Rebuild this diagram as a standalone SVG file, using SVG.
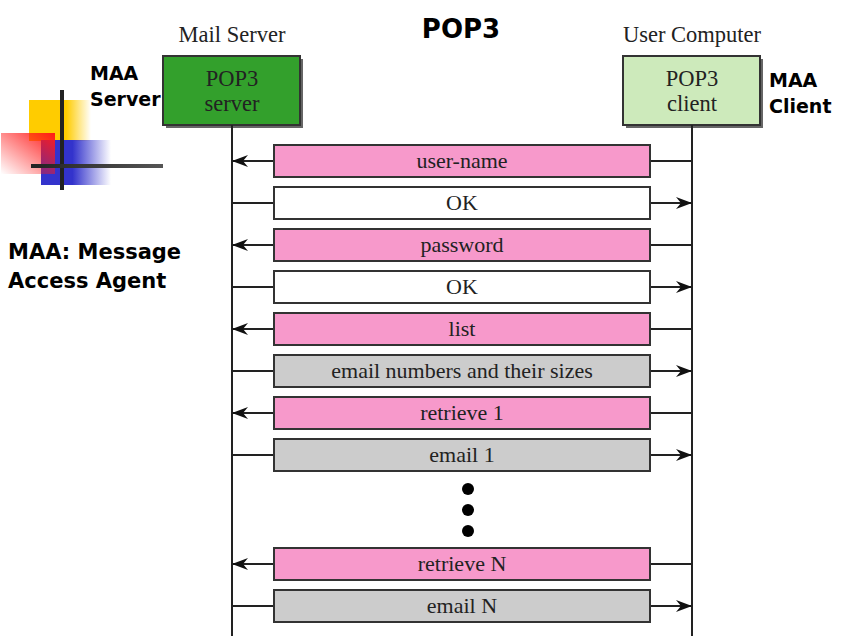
<svg xmlns="http://www.w3.org/2000/svg" width="843" height="636" viewBox="0 0 843 636">
<defs>
<style>
.ser{font-family:"Liberation Serif","DejaVu Serif",serif;fill:#222;}
.lbl{font-size:22.5px;text-anchor:middle;}
.msg{font-size:22px;text-anchor:middle;}
.bold{font-family:"DejaVu Sans","Liberation Sans",sans-serif;font-weight:bold;fill:#000;}
.box{stroke:#333;stroke-width:2;}
.pink{fill:#f799cb;}
.white{fill:#fff;}
.gray{fill:#cccccc;}
.line{stroke:#222;stroke-width:2;fill:none;}
</style>
<marker id="arr" markerWidth="16" markerHeight="12" refX="15" refY="6" orient="auto" markerUnits="userSpaceOnUse">
<path d="M0,0 L16,6 L0,12 L5,6 Z" fill="#111"/>
</marker>
<linearGradient id="gy" x1="0" y1="0" x2="1" y2="0">
<stop offset="0" stop-color="#ffcc00"/><stop offset="0.6" stop-color="#ffcc00"/><stop offset="1" stop-color="#ffcc00" stop-opacity="0"/>
</linearGradient>
<linearGradient id="gb" x1="0" y1="0" x2="1" y2="0">
<stop offset="0" stop-color="#3333cc"/><stop offset="0.45" stop-color="#3333cc"/><stop offset="1" stop-color="#3333cc" stop-opacity="0"/>
</linearGradient>
<linearGradient id="gr" x1="1" y1="0" x2="0" y2="1">
<stop offset="0" stop-color="#ff1a1a"/><stop offset="1" stop-color="#ff1a1a" stop-opacity="0"/>
</linearGradient>
<linearGradient id="gl" x1="0" y1="0" x2="1" y2="0">
<stop offset="0" stop-color="#222"/><stop offset="1" stop-color="#555"/>
</linearGradient>
</defs>
<rect width="843" height="636" fill="#fff"/>

<g id="logo">
<rect x="29" y="100" width="62" height="41" fill="url(#gy)"/>
<rect x="41" y="140" width="70" height="45" fill="url(#gb)"/>
<rect x="1" y="133" width="54" height="41" fill="url(#gr)"/>
<rect x="60" y="90" width="4" height="100" fill="#222"/>
<rect x="31" y="164" width="132" height="4" fill="url(#gl)"/>
</g>

<text class="bold" x="461" y="38" font-size="26" text-anchor="middle">POP3</text>
<text class="bold" x="90" y="80" font-size="19">MAA</text>
<text class="bold" x="90" y="106" font-size="19">Server</text>
<text class="bold" x="769" y="87" font-size="19">MAA</text>
<text class="bold" x="769" y="113" font-size="19">Client</text>
<text class="bold" x="8" y="259" font-size="21">MAA: Message</text>
<text class="bold" x="8" y="288" font-size="21">Access Agent</text>

<g id="mail-server">
<text class="ser lbl" x="232" y="42">Mail Server</text>
<rect x="166" y="59" width="137" height="69" fill="#666"/>
<rect x="163" y="56" width="137" height="69" fill="#33a02c" class="box"/>
<text class="ser lbl" x="232" y="86" fill="#111">POP3</text>
<text class="ser lbl" x="232" y="111">server</text>
</g>

<g id="user-computer">
<text class="ser lbl" x="692" y="42">User Computer</text>
<rect x="626" y="59" width="137" height="69" fill="#666"/>
<rect x="623" y="56" width="137" height="69" fill="#cdeabb" class="box"/>
<text class="ser lbl" x="692" y="86">POP3</text>
<text class="ser lbl" x="692" y="111">client</text>
</g>

<g id="connectors">
<line class="line" x1="232" y1="125" x2="232" y2="636"/>
<line class="line" x1="692" y1="125" x2="692" y2="636"/>
<line class="line" x1="692" y1="161" x2="650" y2="161"/><line class="line" x1="274" y1="161" x2="233" y2="161" marker-end="url(#arr)"/>
<line class="line" x1="692" y1="245" x2="650" y2="245"/><line class="line" x1="274" y1="245" x2="233" y2="245" marker-end="url(#arr)"/>
<line class="line" x1="692" y1="329" x2="650" y2="329"/><line class="line" x1="274" y1="329" x2="233" y2="329" marker-end="url(#arr)"/>
<line class="line" x1="692" y1="413" x2="650" y2="413"/><line class="line" x1="274" y1="413" x2="233" y2="413" marker-end="url(#arr)"/>
<line class="line" x1="692" y1="564" x2="650" y2="564"/><line class="line" x1="274" y1="564" x2="233" y2="564" marker-end="url(#arr)"/>
<line class="line" x1="232" y1="203" x2="274" y2="203"/><line class="line" x1="650" y1="203" x2="691" y2="203" marker-end="url(#arr)"/>
<line class="line" x1="232" y1="287" x2="274" y2="287"/><line class="line" x1="650" y1="287" x2="691" y2="287" marker-end="url(#arr)"/>
<line class="line" x1="232" y1="371" x2="274" y2="371"/><line class="line" x1="650" y1="371" x2="691" y2="371" marker-end="url(#arr)"/>
<line class="line" x1="232" y1="455" x2="274" y2="455"/><line class="line" x1="650" y1="455" x2="691" y2="455" marker-end="url(#arr)"/>
<line class="line" x1="232" y1="606" x2="274" y2="606"/><line class="line" x1="650" y1="606" x2="691" y2="606" marker-end="url(#arr)"/>
</g>

<g id="msg-user-name"><rect class="box pink" x="274" y="145" width="376" height="32"/><text class="ser msg" x="462" y="168">user-name</text></g>
<g id="msg-ok1"><rect class="box white" x="274" y="187" width="376" height="32"/><text class="ser msg" x="462" y="210">OK</text></g>
<g id="msg-password"><rect class="box pink" x="274" y="229" width="376" height="32"/><text class="ser msg" x="462" y="252">password</text></g>
<g id="msg-ok2"><rect class="box white" x="274" y="271" width="376" height="32"/><text class="ser msg" x="462" y="294">OK</text></g>
<g id="msg-list"><rect class="box pink" x="274" y="313" width="376" height="32"/><text class="ser msg" x="462" y="336">list</text></g>
<g id="msg-sizes"><rect class="box gray" x="274" y="355" width="376" height="32"/><text class="ser msg" x="462" y="378">email numbers and their sizes</text></g>
<g id="msg-retrieve1"><rect class="box pink" x="274" y="397" width="376" height="32"/><text class="ser msg" x="462" y="420">retrieve 1</text></g>
<g id="msg-email1"><rect class="box gray" x="274" y="439" width="376" height="32"/><text class="ser msg" x="462" y="462">email 1</text></g>
<g id="dots" fill="#000"><circle cx="468" cy="489" r="6"/><circle cx="468" cy="510" r="6"/><circle cx="468" cy="531" r="6"/></g>
<g id="msg-retrieveN"><rect class="box pink" x="274" y="548" width="376" height="32"/><text class="ser msg" x="462" y="571">retrieve N</text></g>
<g id="msg-emailN"><rect class="box gray" x="274" y="590" width="376" height="32"/><text class="ser msg" x="462" y="613">email N</text></g>
</svg>
